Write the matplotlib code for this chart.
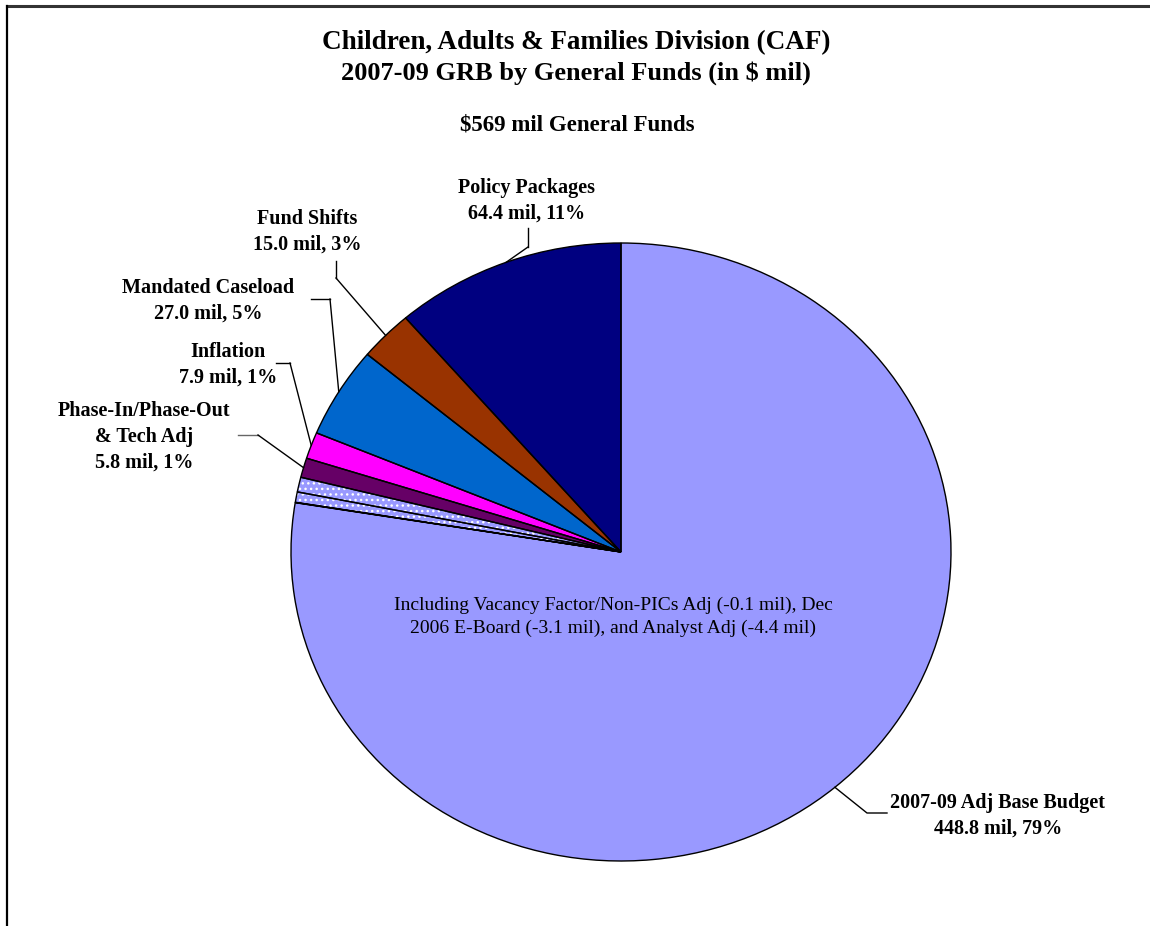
import numpy as np
import matplotlib
matplotlib.use("Agg")
import matplotlib.pyplot as plt

# slices counterclockwise from 12 o'clock (values in $ mil)
slice_names = ["Policy Packages", "Fund Shifts", "Mandated Caseload", "Inflation",
               "Phase-In/Phase-Out\n& Tech Adj", "Analyst Adj", "Dec 2006 E-Board",
               "Vacancy Factor/Non-PICs Adj", "2007-09 Adj Base Budget"]
base_budget = 448.8
base_adjustments = [4.4, 3.1, 0.1]          # dotted slices carved out of the base
other_values = [64.4, 15.0, 27.0, 7.9, 5.8]
pct_labels = ["11%", "3%", "5%", "1%", "1%"]
base_pct = "79%"
slice_values = other_values + base_adjustments + [round(base_budget - sum(base_adjustments), 1)]
slice_colors = ["#000080", "#993300", "#0066CC", "#FF00FF", "#660066",
                "#9999FF", "#9999FF", "#9999FF", "#9999FF"]
dotted = [False, False, False, False, False, True, True, True, False]

W, H = 1150, 926
fig = plt.figure(figsize=(W / 100, H / 100), dpi=100)
fig.patch.set_facecolor("white")
serif = ["Liberation Serif", "DejaVu Serif"]

# pie axes: 1 data unit = 330 px wide, 309 px tall, centre at (621, 552)
cx, cy, rx, ry = 621, 552, 330, 309
lim = 1.6
ax = fig.add_axes([(cx - lim * rx) / W, (H - cy - lim * ry) / H,
                   2 * lim * rx / W, 2 * lim * ry / H])
wedges, _ = ax.pie(slice_values, colors=slice_colors, startangle=90, counterclock=True,
                   wedgeprops=dict(linewidth=0))
for w, d in zip(wedges, dotted):
    if d:
        w.set_edgecolor("white")
        w.set_hatch("...")
        w.set_linewidth(0)
outline, _ = ax.pie(slice_values, startangle=90, counterclock=True,
                    wedgeprops=dict(fill=False, edgecolor="black", linewidth=1.0))
for w in wedges + outline:
    w.set_clip_on(False)
ax.set_aspect("auto")
ax.set_xlim(-lim, lim)
ax.set_ylim(-lim, lim)
ax.axis("off")

# overlay in pixel coordinates (y from top) for labels and leaders
ov = fig.add_axes([0, 0, 1, 1], facecolor="none")
ov.set_xlim(0, W)
ov.set_ylim(H, 0)
ov.axis("off")


def edge_point(w):
    mid = np.deg2rad((w.theta1 + w.theta2) / 2)
    x, y = ax.transData.transform((np.cos(mid), np.sin(mid)))
    return x, H - y


# frame
ov.plot([7, W], [5.5, 5.5], color="#333333", lw=2.2)
ov.plot([7, 7], [5.5, H], color="black", lw=1.6)

ov.text(576, 43, "Children, Adults & Families Division (CAF)", ha="center", va="center",
        fontsize=19.5, fontweight="bold", family=serif)
ov.text(576, 73, "2007-09 GRB by General Funds (in $ mil)", ha="center", va="center",
        fontsize=19, fontweight="bold", family=serif)
ov.text(577, 125, "$%d mil General Funds" % round(sum(slice_values)), ha="center",
        va="center", fontsize=16.5, fontweight="bold", family=serif)

# label centres and leader elbows (layout only)
label_pos = [(527, 201), (307, 232), (208, 301), (228, 365), (144, 437)]
elbows = [[(528, 228), (528, 247)], [(336, 261), (336, 278)],
          [(311, 299), (330, 299)], [(276, 363), (290, 363)], [(238, 435), (258, 435)]]
leader_colors = ["black", "black", "black", "black", "#666666"]
for i in range(5):
    name = slice_names[i]
    txt = "%s\n%.1f mil, %s" % (name, other_values[i], pct_labels[i])
    ov.text(label_pos[i][0], label_pos[i][1], txt, ha="center", va="center",
            fontsize=14.5, fontweight="bold", family=serif, linespacing=1.38)
    ex, ey = edge_point(wedges[i])
    xs = [p[0] for p in elbows[i]] + [ex]
    ys = [p[1] for p in elbows[i]] + [ey]
    ov.plot(xs[:2], ys[:2], color=leader_colors[i], lw=1)
    ov.plot(xs[1:], ys[1:], color="black", lw=1)

# base budget label
ov.text(998, 816, "%s\n%.1f mil, %s" % (slice_names[-1], base_budget, base_pct),
        ha="center", va="center", fontsize=14.5, fontweight="bold", family=serif,
        linespacing=1.38)
bx, by = edge_point(wedges[-1])
ov.plot([bx, 867, 887], [by, 813, 813], color="black", lw=1)

ov.text(613, 617,
        "Including Vacancy Factor/Non-PICs Adj (-%.1f mil), Dec\n"
        "2006 E-Board (-%.1f mil), and Analyst Adj (-%.1f mil)"
        % (base_adjustments[2], base_adjustments[1], base_adjustments[0]),
        ha="center", va="center", fontsize=14, family=serif, linespacing=1.42)

fig.savefig("out.png", dpi=100)
